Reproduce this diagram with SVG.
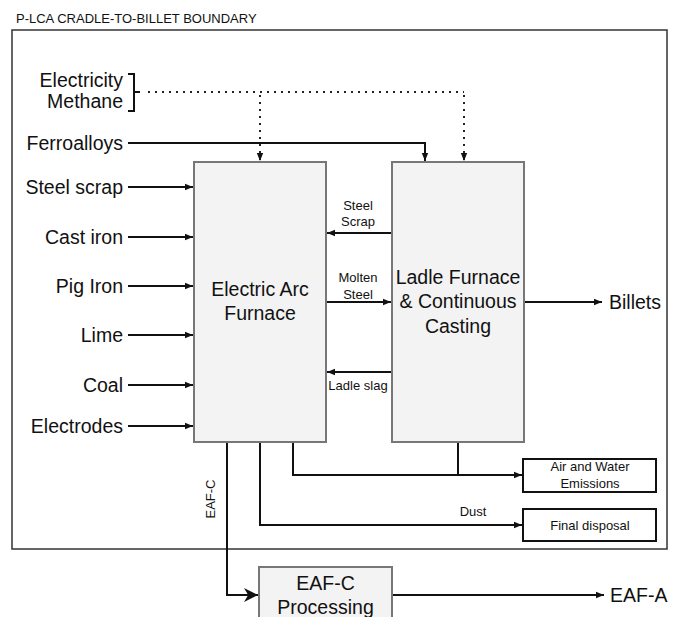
<svg xmlns="http://www.w3.org/2000/svg" width="680" height="617" viewBox="0 0 680 617">
<style>
text{font-family:"Liberation Sans",Arial,sans-serif;fill:#111}
.big{font-size:19.5px}
.sm{font-size:13px}
.proc{fill:#f3f3f3;stroke:#777;stroke-width:2}
.out{fill:#fff;stroke:#111;stroke-width:2}
.ln{fill:none;stroke:#111;stroke-width:2}
.dot{fill:none;stroke:#222;stroke-width:2;stroke-dasharray:2 5}
</style>
<defs>
<marker id="a" viewBox="0 0 10 10" refX="10" refY="5" markerWidth="4" markerHeight="4" orient="auto" markerUnits="strokeWidth"><path d="M0,1 L10,5 L0,9 z" fill="#111"/></marker>
<marker id="b" viewBox="0 0 10 10" refX="10" refY="5" markerWidth="7" markerHeight="7" orient="auto" markerUnits="strokeWidth"><path d="M0,0 L10,5 L0,10 L3,5 z" fill="#111"/></marker>
</defs>
<text class="sm" x="16" y="23">P-LCA CRADLE-TO-BILLET BOUNDARY</text>
<rect x="12" y="30" width="655" height="519" fill="none" stroke="#333" stroke-width="1.5"/>

<g id="connectors">
<path class="ln" d="M128,74 H134 V111 H128 M134,92 H140" stroke-width="1.5"/>
<path class="dot" d="M148,92 H464"/>
<path class="dot" d="M260,95 V161" marker-end="url(#a)"/>
<path class="dot" d="M464,95 V161" marker-end="url(#a)"/>
<path class="ln" d="M128,143 H425 V161" marker-end="url(#a)"/>
<path class="ln" d="M128,187 H193" marker-end="url(#a)"/>
<path class="ln" d="M128,237 H193" marker-end="url(#a)"/>
<path class="ln" d="M128,286 H193" marker-end="url(#a)"/>
<path class="ln" d="M128,335 H193" marker-end="url(#a)"/>
<path class="ln" d="M128,385 H193" marker-end="url(#a)"/>
<path class="ln" d="M128,426 H193" marker-end="url(#a)"/>
<path class="ln" d="M392,233 H327" marker-end="url(#a)"/>
<path class="ln" d="M326,302 H391" marker-end="url(#a)"/>
<path class="ln" d="M392,372 H327" marker-end="url(#a)"/>
<path class="ln" d="M524,302 H602" marker-end="url(#a)"/>
<path class="ln" d="M293,442 V475 H522" marker-end="url(#a)"/>
<path class="ln" d="M458,442 V475"/>
<path class="ln" d="M260,442 V525 H522" marker-end="url(#a)"/>
<path class="ln" d="M227,442 V595 H258" marker-end="url(#b)"/>
<path class="ln" d="M392,595 H604" marker-end="url(#a)"/>
</g>

<g id="inputs">
<text class="big" x="123" y="87" text-anchor="end">Electricity</text>
<text class="big" x="123" y="108" text-anchor="end">Methane</text>
<text class="big" x="123" y="150" text-anchor="end">Ferroalloys</text>
<text class="big" x="123" y="194" text-anchor="end">Steel scrap</text>
<text class="big" x="123" y="244" text-anchor="end">Cast iron</text>
<text class="big" x="123" y="293" text-anchor="end">Pig Iron</text>
<text class="big" x="123" y="342" text-anchor="end">Lime</text>
<text class="big" x="123" y="392" text-anchor="end">Coal</text>
<text class="big" x="123" y="433" text-anchor="end">Electrodes</text>
</g>

<g id="eaf">
<rect class="proc" x="194" y="162" width="132" height="280"/>
<text class="big" x="260" y="296" text-anchor="middle">Electric Arc</text>
<text class="big" x="260" y="320" text-anchor="middle">Furnace</text>
</g>

<g id="ladle">
<rect class="proc" x="392" y="162" width="132" height="280"/>
<text class="big" x="458" y="284" text-anchor="middle">Ladle Furnace</text>
<text class="big" x="458" y="308" text-anchor="middle">&amp; Continuous</text>
<text class="big" x="458" y="333" text-anchor="middle">Casting</text>
</g>

<g id="labels">
<text class="sm" x="358" y="210" text-anchor="middle">Steel</text>
<text class="sm" x="358" y="226" text-anchor="middle">Scrap</text>
<text class="sm" x="358" y="282" text-anchor="middle">Molten</text>
<text class="sm" x="358" y="299" text-anchor="middle">Steel</text>
<text class="sm" x="358" y="390" text-anchor="middle">Ladle slag</text>
<text class="sm" x="473" y="516" text-anchor="middle">Dust</text>
<text class="sm" transform="translate(215,499) rotate(-90)" text-anchor="middle">EAF-C</text>
</g>

<g id="billets"><text class="big" x="609" y="309">Billets</text></g>

<g id="emissions">
<rect class="out" x="523" y="459" width="133" height="33"/>
<text class="sm" x="590" y="471" text-anchor="middle">Air and Water</text>
<text class="sm" x="590" y="488" text-anchor="middle">Emissions</text>
</g>

<g id="disposal">
<rect class="out" x="523" y="509" width="133" height="32"/>
<text class="sm" x="590" y="530" text-anchor="middle">Final disposal</text>
</g>

<g id="processing">
<rect class="proc" x="259" y="567" width="133" height="60"/>
<text class="big" x="325.5" y="590" text-anchor="middle">EAF-C</text>
<text class="big" x="325.5" y="614" text-anchor="middle">Processing</text>
</g>

<g id="eafa"><text class="big" x="610" y="602">EAF-A</text></g>
</svg>
